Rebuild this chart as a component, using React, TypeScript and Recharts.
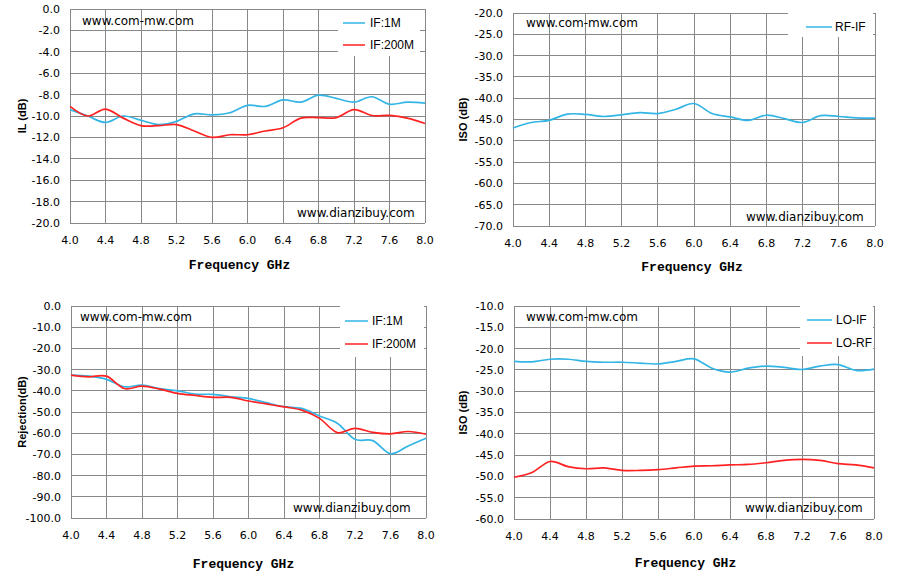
import React from 'react';
import { LineChart, Line, XAxis, YAxis, CartesianGrid, Legend, Label } from 'recharts';

const freq = [4.0, 4.2, 4.4, 4.6, 4.8, 5.0, 5.2, 5.4, 5.6, 5.8, 6.0, 6.2, 6.4, 6.6, 6.8, 7.0, 7.2, 7.4, 7.6, 7.8, 8.0];
const freqTicks = [4.0, 4.4, 4.8, 5.2, 5.6, 6.0, 6.4, 6.8, 7.2, 7.6, 8.0];

// IL (dB)
const ilIf1M = [-9.4, -10.0, -10.6, -10.0, -10.4, -10.8, -10.5, -9.8, -9.9, -9.7, -9.0, -9.1, -8.5, -8.7, -8.05, -8.35, -8.7, -8.2, -8.9, -8.7, -8.8];
const ilIf200M = [-9.1, -10.0, -9.35, -10.2, -10.9, -10.9, -10.8, -11.4, -12.0, -11.75, -11.75, -11.4, -11.1, -10.2, -10.15, -10.15, -9.4, -9.95, -9.95, -10.2, -10.7];
const ilTicks = [0, -2, -4, -6, -8, -10, -12, -14, -16, -18, -20];

// RF-IF isolation
const isoRfIf = [-47.0, -45.7, -45.2, -43.75, -43.8, -44.3, -43.9, -43.4, -43.6, -42.6, -41.25, -43.6, -44.4, -45.2, -44.0, -44.8, -45.7, -44.1, -44.3, -44.6, -44.7];
const isoRfTicks = [-20, -25, -30, -35, -40, -45, -50, -55, -60, -65, -70];

// Rejection
const rejIf1M = [-32.6, -33.1, -34.6, -38.1, -37.3, -39.0, -40.0, -41.5, -41.7, -42.8, -43.6, -45.6, -47.5, -48.3, -51.9, -55.3, -62.9, -63.5, -69.7, -66.0, -62.4];
const rejIf200M = [-32.6, -33.4, -33.1, -38.9, -37.8, -39.2, -41.2, -42.2, -43.1, -43.1, -44.8, -46.2, -47.6, -49.1, -53.0, -59.7, -57.7, -59.6, -60.3, -59.2, -60.5];
const rejTicks = [0, -10, -20, -30, -40, -50, -60, -70, -80, -90, -100];

// LO isolation
const isoLoIf = [-23.0, -23.1, -22.5, -22.5, -23.0, -23.2, -23.2, -23.4, -23.6, -23.0, -22.4, -24.6, -25.5, -24.6, -24.1, -24.4, -24.9, -24.1, -23.75, -25.1, -24.8];
const isoLoRf = [-50.2, -49.1, -46.5, -47.7, -48.2, -48.0, -48.6, -48.6, -48.4, -48.0, -47.6, -47.5, -47.3, -47.2, -46.8, -46.25, -46.0, -46.25, -47.0, -47.3, -48.0];
const isoLoTicks = [-10, -15, -20, -25, -30, -35, -40, -45, -50, -55, -60];

const BLUE = '#33b5e5';
const RED = '#ff2222';
const GRID = '#888888';

// Catmull-Rom style smoothing, close to the spreadsheet's "smoothed line"
class SmoothCurve {
  _context: any;
  _k = 1 / 6;
  _line = NaN;
  _point = 0;
  _x0 = NaN; _x1 = NaN; _x2 = NaN;
  _y0 = NaN; _y1 = NaN; _y2 = NaN;
  constructor(context: any) {
    this._context = context;
  }
  _bez(x: number, y: number) {
    this._context.bezierCurveTo(
      this._x1 + this._k * (this._x2 - this._x0),
      this._y1 + this._k * (this._y2 - this._y0),
      this._x2 + this._k * (this._x1 - x),
      this._y2 + this._k * (this._y1 - y),
      this._x2,
      this._y2
    );
  }
  areaStart() { this._line = 0; }
  areaEnd() { this._line = NaN; }
  lineStart() {
    this._x0 = this._x1 = this._x2 = this._y0 = this._y1 = this._y2 = NaN;
    this._point = 0;
  }
  lineEnd() {
    if (this._point === 2) this._context.lineTo(this._x2, this._y2);
    else if (this._point === 3) this._bez(this._x1, this._y1);
    if (this._line || (this._line !== 0 && this._point === 1)) this._context.closePath();
    this._line = 1 - this._line;
  }
  point(x: number, y: number) {
    x = +x; y = +y;
    if (this._point === 0) {
      this._point = 1;
      if (this._line) this._context.lineTo(x, y);
      else this._context.moveTo(x, y);
    } else if (this._point === 1) {
      this._point = 2;
      this._x1 = x; this._y1 = y;
    } else {
      this._point = 3;
      this._bez(x, y);
    }
    this._x0 = this._x1; this._x1 = this._x2; this._x2 = x;
    this._y0 = this._y1; this._y1 = this._y2; this._y2 = y;
  }
}
const smooth = (context: any) => new SmoothCurve(context);

type Series = { key: string; name: string; values: number[]; color: string };

type PanelProps = {
  left: number;
  top: number;
  width: number;
  height: number;
  margin: { top: number; right: number; bottom: number; left: number };
  yWidth: number;
  yLabel: string;
  yLabelX: number;
  yTicks: number[];
  series: Series[];
  legendBox: { left: number; top: number; width: number; height: number };
  legendItems: number[];
  legendLine: [number, number];
  legendText: number;
  xLabelOffset: number;
  xLabelDx: number;
  mark1: [number, number];
  mark2: [number, number];
};

function Panel(p: PanelProps) {
  const data = freq.map((f, i) => {
    const row: Record<string, number> = { f };
    p.series.forEach((s) => (row[s.key] = s.values[i]));
    return row;
  });
  const yMin = Math.min(...p.yTicks);
  const yMax = Math.max(...p.yTicks);
  const tickStyle = { fontSize: 11, fill: '#000', fontFamily: 'DejaVu Sans' };

  const renderLegend = () => (
    <div style={{ position: 'relative', width: p.legendBox.width, height: p.legendBox.height, background: '#fff' }}>
      {p.series.map((s, i) => (
        <div key={s.key} style={{ position: 'absolute', left: 0, top: p.legendItems[i] - 7, height: 14, width: '100%' }}>
          <svg width={p.legendLine[1]} height={14} style={{ position: 'absolute', left: 0, top: 0 }}>
            <line x1={p.legendLine[0]} x2={p.legendLine[1]} y1={7} y2={7} stroke={s.color} strokeWidth={1.5} />
          </svg>
          <span
            style={{
              position: 'absolute',
              left: p.legendText,
              top: 0,
              lineHeight: '14px',
              fontSize: 12,
              fontFamily: 'Liberation Sans',
              color: '#000',
              whiteSpace: 'nowrap',
            }}
          >
            {s.name}
          </span>
        </div>
      ))}
    </div>
  );

  const markStyle: React.CSSProperties = {
    position: 'absolute',
    fontSize: 12,
    lineHeight: '14px',
    fontFamily: 'DejaVu Sans',
    color: '#000',
    whiteSpace: 'nowrap',
  };

  return (
    <div style={{ position: 'absolute', left: p.left, top: p.top, width: p.width, height: p.height }}>
      <LineChart width={p.width} height={p.height} data={data} margin={p.margin}>
        <CartesianGrid stroke={GRID} strokeWidth={1} shapeRendering="crispEdges" />
        <XAxis
          type="number"
          dataKey="f"
          domain={[4, 8]}
          ticks={freqTicks}
          interval={0}
          tickFormatter={(v: number) => v.toFixed(1)}
          tickLine={false}
          axisLine={false}
          tickSize={10}
          tickMargin={3}
          tick={tickStyle}
          height={50}
        >
          <Label
            value="Frequency GHz"
            position="insideBottom"
            offset={p.xLabelOffset}
            dx={p.xLabelDx}
            style={{ fontFamily: 'Liberation Mono', fontWeight: 'bold', fontSize: 13, fill: '#000' }}
          />
        </XAxis>
        <YAxis
          type="number"
          domain={[yMin, yMax]}
          ticks={p.yTicks}
          interval={0}
          tickFormatter={(v: number) => v.toFixed(1)}
          tickLine={false}
          axisLine={false}
          tickSize={8}
          tickMargin={2}
          tick={tickStyle}
          width={p.yWidth}
        >
          <Label
            value={p.yLabel}
            angle={-90}
            position="insideLeft"
            offset={p.yLabelX}
            style={{ textAnchor: 'middle', fontFamily: 'Liberation Sans', fontWeight: 'bold', fontSize: 11, fill: '#000' }}
          />
        </YAxis>
        <Legend
          layout="horizontal"
          align="center"
          verticalAlign="middle"
          content={renderLegend}
          wrapperStyle={{
            position: 'absolute',
            left: p.legendBox.left,
            top: p.legendBox.top,
            width: p.legendBox.width,
            height: p.legendBox.height,
            margin: 0,
          }}
        />
        {p.series.map((s) => (
          <Line
            key={s.key}
            dataKey={s.key}
            name={s.name}
            type={smooth as any}
            stroke={s.color}
            strokeWidth={1.7}
            dot={false}
            activeDot={false}
            isAnimationActive={false}
          />
        ))}
      </LineChart>
      <div style={{ ...markStyle, left: p.mark1[0], top: p.mark1[1] - 7 }}>www.com-mw.com</div>
      <div style={{ ...markStyle, left: p.mark2[0], top: p.mark2[1] - 7 }}>www.dianzibuy.com</div>
    </div>
  );
}

export default function App() {
  return (
    <div style={{ position: 'absolute', left: 0, top: 0, width: 899, height: 573, background: '#fff' }}>
      <Panel
        left={0}
        top={0}
        width={450}
        height={287}
        margin={{ top: 9, right: 25, bottom: 14, left: 0 }}
        yWidth={70}
        yLabel="IL (dB)"
        yLabelX={22}
        yTicks={ilTicks}
        series={[
          { key: 'a', name: 'IF:1M', values: ilIf1M, color: BLUE },
          { key: 'b', name: 'IF:200M', values: ilIf200M, color: RED },
        ]}
        legendBox={{ left: 338, top: 10, width: 82, height: 46 }}
        legendItems={[13, 35]}
        legendLine={[5, 27]}
        legendText={32}
        xLabelOffset={4.5}
        xLabelDx={-8}
        mark1={[82, 21]}
        mark2={[297, 213]}
      />
      <Panel
        left={450}
        top={0}
        width={449}
        height={287}
        margin={{ top: 13, right: 24, bottom: 11, left: 0 }}
        yWidth={63}
        yLabel="ISO (dB)"
        yLabelX={13}
        yTicks={isoRfTicks}
        series={[{ key: 'a', name: 'RF-IF', values: isoRfIf, color: BLUE }]}
        legendBox={{ left: 338, top: 13, width: 85, height: 24 }}
        legendItems={[14]}
        legendLine={[18, 44]}
        legendText={47}
        xLabelOffset={5.5}
        xLabelDx={-2}
        mark1={[76, 23]}
        mark2={[296, 217]}
      />
      <Panel
        left={0}
        top={290}
        width={450}
        height={283}
        margin={{ top: 16, right: 24, bottom: 5, left: 0 }}
        yWidth={71}
        yLabel="Rejection(dB)"
        yLabelX={22}
        yTicks={rejTicks}
        series={[
          { key: 'a', name: 'IF:1M', values: rejIf1M, color: BLUE },
          { key: 'b', name: 'IF:200M', values: rejIf200M, color: RED },
        ]}
        legendBox={{ left: 340, top: 16, width: 84, height: 51 }}
        legendItems={[15, 38]}
        legendLine={[5, 28]}
        legendText={32}
        xLabelOffset={0.5}
        xLabelDx={-5}
        mark1={[80, 27]}
        mark2={[293, 218]}
      />
      <Panel
        left={450}
        top={290}
        width={449}
        height={283}
        margin={{ top: 16, right: 25, bottom: 4, left: 0 }}
        yWidth={64}
        yLabel="ISO (dB)"
        yLabelX={13}
        yTicks={isoLoTicks}
        series={[
          { key: 'a', name: 'LO-IF', values: isoLoIf, color: BLUE },
          { key: 'b', name: 'LO-RF', values: isoLoRf, color: RED },
        ]}
        legendBox={{ left: 350, top: 16, width: 73, height: 50 }}
        legendItems={[14, 37]}
        legendLine={[7, 32]}
        legendText={36}
        xLabelOffset={2.5}
        xLabelDx={-8.5}
        mark1={[76, 27]}
        mark2={[295, 218]}
      />
    </div>
  );
}
